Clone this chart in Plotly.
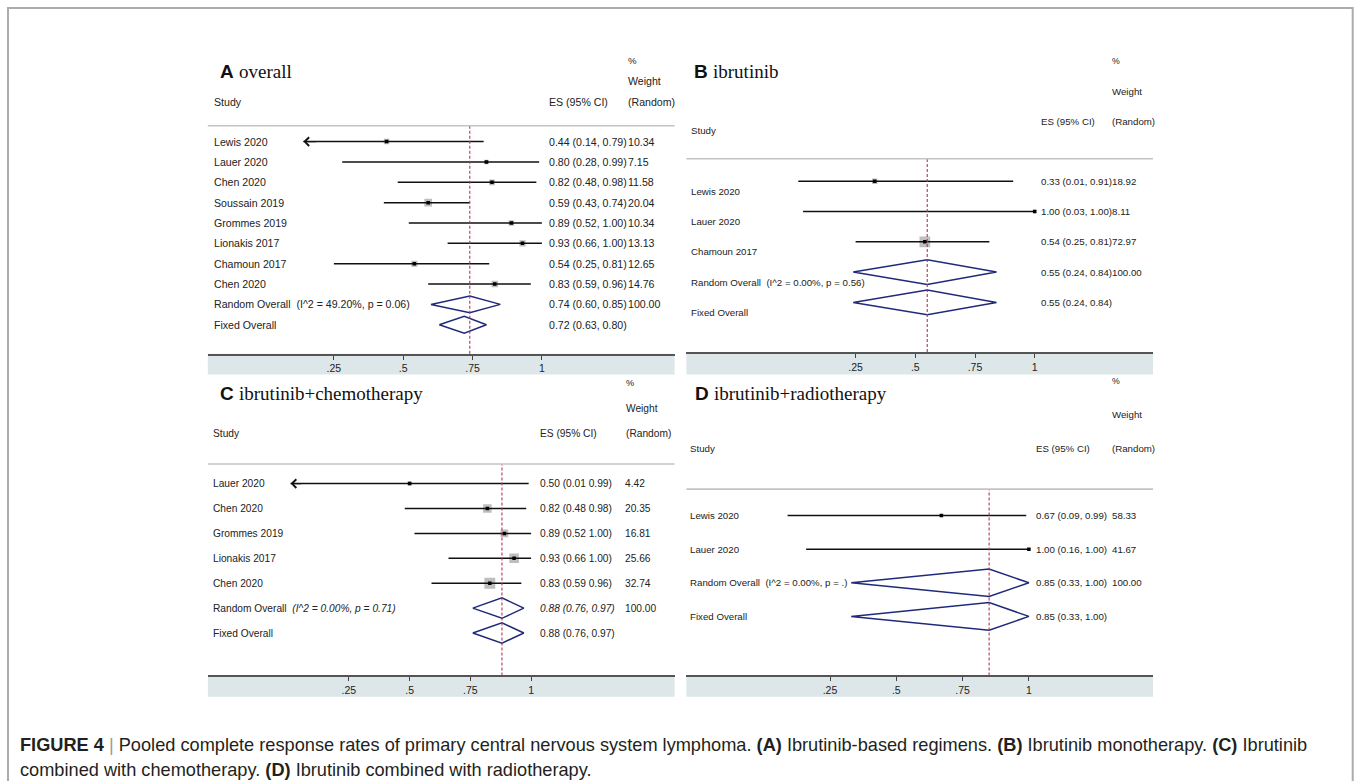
import math
import plotly.graph_objects as go

W, H = 1356, 781


def px(x):
    return x / W


def py(y):
    return 1 - y / H


# ---------------- data ----------------
A_title = "overall"
A_studies = ["Lewis 2020", "Lauer 2020", "Chen 2020", "Soussain 2019", "Grommes 2019",
             "Lionakis 2017", "Chamoun 2017", "Chen 2020"]
A_es = [0.44, 0.80, 0.82, 0.59, 0.89, 0.93, 0.54, 0.83]
A_lo = [0.14, 0.28, 0.48, 0.43, 0.52, 0.66, 0.25, 0.59]
A_hi = [0.79, 0.99, 0.98, 0.74, 1.00, 1.00, 0.81, 0.96]
A_wt = [10.34, 7.15, 11.58, 20.04, 10.34, 13.13, 12.65, 14.76]
A_arrow = [True, False, False, False, False, False, False, False]
A_random = [0.74, 0.60, 0.85]
A_fixed = [0.72, 0.63, 0.80]
A_het = "(I^2 = 49.20%, p = 0.06)"

B_title = "ibrutinib"
B_studies = ["Lewis 2020", "Lauer 2020", "Chamoun 2017"]
B_es = [0.33, 1.00, 0.54]
B_lo = [0.01, 0.03, 0.25]
B_hi = [0.91, 1.00, 0.81]
B_wt = [18.92, 8.11, 72.97]
B_arrow = [False, False, False]
B_random = [0.55, 0.24, 0.84]
B_fixed = [0.55, 0.24, 0.84]
B_het = "(I^2 = 0.00%, p = 0.56)"

C_title = "ibrutinib+chemotherapy"
C_studies = ["Lauer 2020", "Chen 2020", "Grommes 2019", "Lionakis 2017", "Chen 2020"]
C_es = [0.50, 0.82, 0.89, 0.93, 0.83]
C_lo = [0.01, 0.48, 0.52, 0.66, 0.59]
C_hi = [0.99, 0.98, 1.00, 1.00, 0.96]
C_wt = [4.42, 20.35, 16.81, 25.66, 32.74]
C_arrow = [True, False, False, False, False]
C_random = [0.88, 0.76, 0.97]
C_fixed = [0.88, 0.76, 0.97]
C_het = "(I^2 = 0.00%, p = 0.71)"

D_title = "ibrutinib+radiotherapy"
D_studies = ["Lewis 2020", "Lauer 2020"]
D_es = [0.67, 1.00]
D_lo = [0.09, 0.16]
D_hi = [0.99, 1.00]
D_wt = [58.33, 41.67]
D_arrow = [False, False]
D_random = [0.85, 0.33, 1.00]
D_fixed = [0.85, 0.33, 1.00]
D_het = "(I^2 = 0.00%, p = .)"

tick_vals = [0.25, 0.5, 0.75, 1.0]
tick_text = [".25", ".5", ".75", "1"]

# ---------------- layout / style per panel ----------------
panels = [
    dict(letter="A", title=A_title, studies=A_studies, es=A_es, lo=A_lo, hi=A_hi, wt=A_wt,
         arrow=A_arrow, random=A_random, fixed=A_fixed, het=A_het,
         t25=333.9, t1=541.9, bx=(207.8, 674.6), axis_y=353.8, band_b=374.4,
         gray_y=125.7, row0=141.6, dy=20.35, lab_x=211.6, es_x=547.4, wt_x=626.2,
         pct=(625.5, 60.6), weight=(625.5, 81.0), study=(211.6, 101.6), esh=(547.4, 101.6),
         rnd=(625.5, 101.6), tpos=(217.5, 71.7), fs=10.6, sep=", ", box_k=1.7,
         lab_off=0.0, concat=False, italic=False),
    dict(letter="B", title=B_title, studies=B_studies, es=B_es, lo=B_lo, hi=B_hi, wt=B_wt,
         arrow=B_arrow, random=B_random, fixed=B_fixed, het=B_het,
         t25=855.6, t1=1034.7, bx=(686.4, 1153.0), axis_y=352.0, band_b=374.4,
         gray_y=158.8, row0=181.2, dy=30.3, lab_x=689.3, es_x=1039.2, wt_x=None,
         pct=(1109.8, 60.6), weight=(1109.8, 91.3), study=(689.3, 130.9), esh=(1039.2, 121.6),
         rnd=(1109.8, 121.6), tpos=(692.0, 71.7), fs=9.7, sep=", ", box_k=1.25,
         lab_off=0.33, concat=True, italic=False),
    dict(letter="C", title=C_title, studies=C_studies, es=C_es, lo=C_lo, hi=C_hi, wt=C_wt,
         arrow=C_arrow, random=C_random, fixed=C_fixed, het=C_het,
         t25=348.9, t1=531.1, bx=(207.9, 674.6), axis_y=675.4, band_b=696.8,
         gray_y=464.0, row0=483.6, dy=24.9, lab_x=211.3, es_x=537.7, wt_x=623.1,
         pct=(623.8, 383.0), weight=(623.8, 408.2), study=(211.3, 433.0), esh=(537.7, 433.0),
         rnd=(623.8, 433.0), tpos=(217.5, 393.4), fs=10.2, sep=" ", box_k=1.9,
         lab_off=0.0, concat=False, italic=True),
    dict(letter="D", title=D_title, studies=D_studies, es=D_es, lo=D_lo, hi=D_hi, wt=D_wt,
         arrow=D_arrow, random=D_random, fixed=D_fixed, het=D_het,
         t25=830.0, t1=1028.9, bx=(686.4, 1153.0), axis_y=675.4, band_b=696.8,
         gray_y=489.1, row0=515.6, dy=33.6, lab_x=687.6, es_x=1033.7, wt_x=1109.8,
         pct=(1109.8, 380.6), weight=(1109.8, 414.7), study=(687.6, 448.5), esh=(1033.7, 448.5),
         rnd=(1109.8, 448.5), tpos=(692.7, 393.4), fs=9.7, sep=", ", box_k=0.0,
         lab_off=0.0, concat=False, italic=False),
]

SANS = "Liberation Sans, Arial, sans-serif"
SERIF = "Liberation Serif, Times New Roman, serif"
TXT = "#222222"
CI_COL = "#111111"
DIA_COL = "#1f2a7a"
RED = "#b03850"
BOX_COL = "#a3a3a3"
HALF_H = 0.41

fig = go.Figure()
annotations = []
shapes = []
layout_axes = {}

for i, p in enumerate(panels):
    sfx = "" if i == 0 else str(i + 1)
    xr, yr = "x" + sfx, "y" + sfx
    unit = (p["t1"] - p["t25"]) / 0.75
    x0px = p["t25"] - 0.25 * unit
    xrange = [(p["bx"][0] - x0px) / unit, (p["bx"][1] - x0px) / unit]
    yrange = [(p["axis_y"] - p["row0"]) / p["dy"], -(p["row0"] - p["gray_y"]) / p["dy"]]

    layout_axes["xaxis" + sfx] = dict(
        domain=[px(p["bx"][0]), px(p["bx"][1])], range=xrange, anchor=yr,
        tickvals=tick_vals, ticktext=tick_text, ticks="outside", ticklen=4, tickwidth=1.3,
        tickcolor="#444", showline=True, linecolor="#555", linewidth=1.8,
        showgrid=False, zeroline=False, fixedrange=True,
        tickfont=dict(family=SANS, size=10.5, color=TXT))
    layout_axes["yaxis" + sfx] = dict(
        domain=[py(p["axis_y"]), py(p["gray_y"])], range=yrange, anchor=xr,
        visible=False, fixedrange=True)

    n = len(p["studies"])
    rows = list(range(n))
    r_rand, r_fix = n, n + 1

    # weight boxes
    if p["box_k"] > 0:
        fig.add_trace(go.Scatter(
            x=p["es"], y=rows, mode="markers", xaxis=xr, yaxis=yr,
            marker=dict(symbol="square", size=[p["box_k"] * math.sqrt(w) for w in p["wt"]],
                        color=BOX_COL, line=dict(width=0)),
            hoverinfo="skip", showlegend=False))
    # CI lines
    cx, cy = [], []
    for r, lo, hi in zip(rows, p["lo"], p["hi"]):
        cx += [lo, hi, None]
        cy += [r, r, None]
    fig.add_trace(go.Scatter(x=cx, y=cy, mode="lines", xaxis=xr, yaxis=yr,
                             line=dict(color=CI_COL, width=1.5),
                             hoverinfo="skip", showlegend=False))
    # point estimates
    fig.add_trace(go.Scatter(x=p["es"], y=rows, mode="markers", xaxis=xr, yaxis=yr,
                             marker=dict(symbol="square", size=3.5, color="#000"),
                             hoverinfo="skip", showlegend=False))
    # diamonds
    for r, (e, lo, hi) in ((r_rand, p["random"]), (r_fix, p["fixed"])):
        fig.add_trace(go.Scatter(
            x=[lo, e, hi, e, lo], y=[r, r - HALF_H, r, r + HALF_H, r], mode="lines",
            xaxis=xr, yaxis=yr, line=dict(color=DIA_COL, width=1.5),
            hoverinfo="skip", showlegend=False))
    # arrows for clipped lower limits
    for r, lo, flag in zip(rows, p["lo"], p["arrow"]):
        if flag:
            annotations.append(dict(
                x=lo, y=r, xref=xr, yref=yr, ax=lo + 0.05, ay=r, axref=xr, ayref=yr,
                text="", showarrow=True, arrowhead=4, arrowsize=1.3, arrowwidth=1.3,
                arrowcolor="#111"))

    # red dashed pooled line
    shapes.append(dict(type="line", xref=xr, yref=yr + " domain", x0=p["random"][0],
                       x1=p["random"][0], y0=0, y1=1,
                       line=dict(color=RED, width=1.1, dash="3px,2px")))
    # header separator line
    shapes.append(dict(type="line", xref="paper", yref="paper", x0=px(p["bx"][0]),
                       x1=px(p["bx"][1]), y0=py(p["gray_y"]), y1=py(p["gray_y"]),
                       line=dict(color="#c4c4c4", width=1.6)))
    # axis band
    shapes.append(dict(type="rect", xref="paper", yref="paper", x0=px(p["bx"][0]),
                       x1=px(p["bx"][1]), y0=py(p["band_b"]), y1=py(p["axis_y"]),
                       fillcolor="#dde7ea", line=dict(width=0), layer="below"))

    fs = p["fs"]
    font = dict(family=SANS, size=fs, color=TXT)

    def add_text(txt, x, y, xref="paper", yref="paper", f=None):
        annotations.append(dict(text=txt, x=x, y=y, xref=xref, yref=yref,
                                xanchor="left", yanchor="middle", showarrow=False,
                                font=f or font))

    # title
    add_text("<b>%s</b> <span style='font-family:%s'>%s</span>" % (p["letter"], SERIF, p["title"]),
             px(p["tpos"][0]), py(p["tpos"][1]), f=dict(family=SANS, size=19, color="#111"))
    # headers
    add_text("%", px(p["pct"][0]), py(p["pct"][1]), f=dict(family=SANS, size=fs - 1, color=TXT))
    add_text("Weight", px(p["weight"][0]), py(p["weight"][1]))
    add_text("Study", px(p["study"][0]), py(p["study"][1]))
    add_text("ES (95% CI)", px(p["esh"][0]), py(p["esh"][1]))
    add_text("(Random)", px(p["rnd"][0]), py(p["rnd"][1]))

    # study rows
    for r, name, e, lo, hi, w in zip(rows, p["studies"], p["es"], p["lo"], p["hi"], p["wt"]):
        add_text(name, px(p["lab_x"]), r + p["lab_off"], yref=yr)
        es_txt = "%.2f (%.2f%s%.2f)" % (e, lo, p["sep"], hi)
        if p["concat"]:
            add_text(es_txt + "%.2f" % w, px(p["es_x"]), r, yref=yr)
        else:
            add_text(es_txt, px(p["es_x"]), r, yref=yr)
            add_text("%.2f" % w, px(p["wt_x"]), r, yref=yr)

    # pooled rows
    het = ("<i>%s</i>" % p["het"]) if p["italic"] else p["het"]
    add_text("Random Overall\u00a0\u00a0" + het, px(p["lab_x"]), r_rand + p["lab_off"], yref=yr)
    add_text("Fixed Overall", px(p["lab_x"]), r_fix + p["lab_off"], yref=yr)
    e, lo, hi = p["random"]
    rtxt = "%.2f (%.2f, %.2f)" % (e, lo, hi)
    if p["italic"]:
        rtxt = "<i>%s</i>" % rtxt
    if p["concat"]:
        add_text(rtxt + "100.00", px(p["es_x"]), r_rand, yref=yr)
    else:
        add_text(rtxt, px(p["es_x"]), r_rand, yref=yr)
        add_text("100.00", px(p["wt_x"]), r_rand, yref=yr)
    e, lo, hi = p["fixed"]
    add_text("%.2f (%.2f, %.2f)" % (e, lo, hi), px(p["es_x"]), r_fix, yref=yr)

# outer frame
shapes.append(dict(type="rect", xref="paper", yref="paper", x0=px(8), x1=px(1352.7),
                   y0=py(800), y1=py(8), line=dict(color="#ababab", width=2)))

# caption
CAP = "Liberation Sans, Arial, sans-serif"
cap_font = dict(family=CAP, size=18.2, color="#231f20")
annotations.append(dict(
    text="<b>FIGURE 4</b> <span style='color:#999'>|</span> Pooled complete response rates of primary "
         "central nervous system lymphoma. <b>(A)</b> Ibrutinib-based regimens. <b>(B)</b> Ibrutinib "
         "monotherapy. <b>(C)</b> Ibrutinib",
    x=px(18), y=py(745), xref="paper", yref="paper", xanchor="left", yanchor="middle",
    showarrow=False, font=cap_font))
annotations.append(dict(
    text="combined with chemotherapy. <b>(D)</b> Ibrutinib combined with radiotherapy.",
    x=px(18), y=py(770), xref="paper", yref="paper", xanchor="left", yanchor="middle",
    showarrow=False, font=cap_font))

fig.update_layout(
    width=W, height=H, margin=dict(l=0, r=0, t=0, b=0),
    paper_bgcolor="white", plot_bgcolor="rgba(0,0,0,0)",
    showlegend=False, hovermode=False,
    annotations=annotations, shapes=shapes, **layout_axes)

fig.write_html("out.html", config=dict(displayModeBar=False))
